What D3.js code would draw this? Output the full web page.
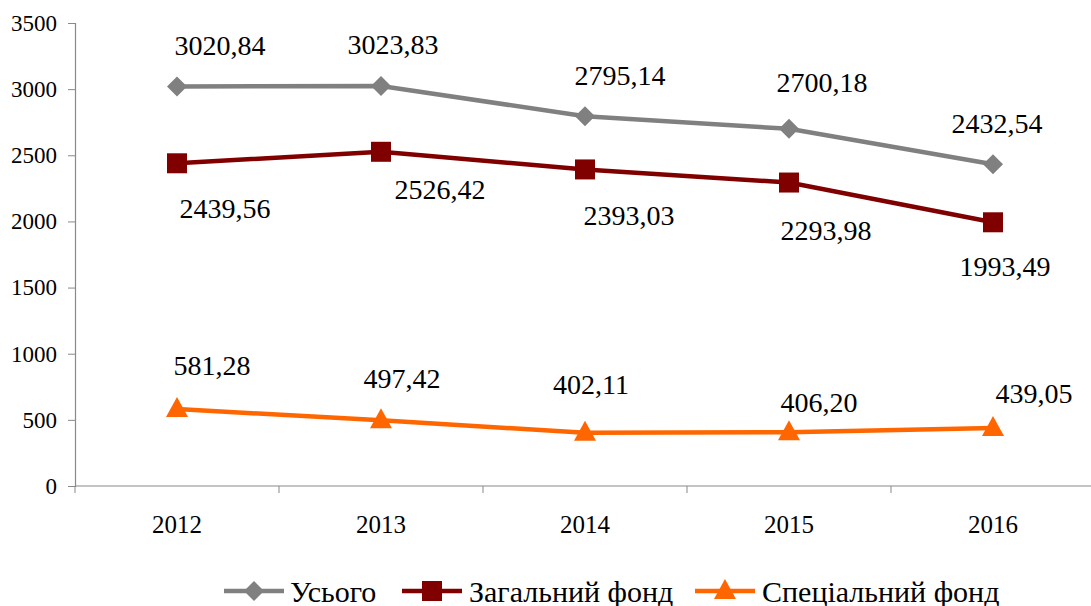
<!DOCTYPE html>
<html>
<head>
<meta charset="utf-8">
<script src="https://cdn.jsdelivr.net/npm/d3@7"></script>
<style>
  body { margin: 0; background: #fff; }
</style>
</head>
<body>
<div id="chart"></div>
<script>
const years = ["2012", "2013", "2014", "2015", "2016"];
const totalValues = [3020.84, 3023.83, 2795.14, 2700.18, 2432.54];
const generalValues = [2439.56, 2526.42, 2393.03, 2293.98, 1993.49];
const specialValues = [581.28, 497.42, 402.11, 406.20, 439.05];
const yTicks = [0, 500, 1000, 1500, 2000, 2500, 3000, 3500];

// label nudges (px, relative to the point), as placed in the original
const totalNudge = [[43, -41], [12, -42], [35, -41], [33, -47], [4, -41]];
const generalNudge = [[48, 45], [59, 37], [44, 46], [37, 48], [12, 44]];
const specialNudge = [[35, -44], [21, -42], [6, -49], [30, -30], [41, -35]];

const series = [
  {name: "Усього", values: totalValues, nudge: totalNudge, color: "#808080", shape: "diamond"},
  {name: "Загальний фонд", values: generalValues, nudge: generalNudge, color: "#800000", shape: "square"},
  {name: "Спеціальний фонд", values: specialValues, nudge: specialNudge, color: "#FF6600", shape: "triangle"}
];

const FONT = "'Liberation Serif', 'Times New Roman', 'DejaVu Serif', serif";
const width = 1091, height = 606;
const svg = d3.select("#chart").append("svg")
  .attr("width", width).attr("height", height)
  .attr("font-family", FONT);

const x = d3.scaleBand().domain(years).range([75, 1095]);
const y = d3.scaleLinear().domain([0, 3500]).range([486, 23]);

const fmt = v => v.toFixed(2).replace(".", ",");

// y axis
const yAxis = svg.append("g").attr("transform", "translate(75,0)")
  .call(d3.axisLeft(y).tickValues(yTicks).tickSize(7).tickPadding(11).tickFormat(d => d));
yAxis.attr("font-family", FONT).attr("font-size", 23);
yAxis.select(".domain").attr("stroke", "#898989").attr("stroke-width", 1.2);
yAxis.selectAll(".tick line").attr("stroke", "#898989");
yAxis.selectAll(".tick text").attr("fill", "#000");

// x axis with ticks at category boundaries
const xAxisG = svg.append("g").attr("transform", "translate(0,486)");
xAxisG.append("line").attr("x1", 75).attr("x2", 1095).attr("stroke", "#898989").attr("stroke-width", 1.2);
const bounds = years.map(d => x(d)).concat([x.range()[1]]);
xAxisG.selectAll(".xt").data(bounds).enter().append("line")
  .attr("x1", d => d).attr("x2", d => d).attr("y1", 0).attr("y2", 7).attr("stroke", "#898989");
xAxisG.selectAll(".xl").data(years).enter().append("text")
  .attr("x", d => x(d) + x.bandwidth() / 2).attr("y", 38)
  .attr("text-anchor", "middle").attr("dy", "0.35em")
  .attr("font-size", 25).text(d => d);

const cx = d => x(d) + x.bandwidth() / 2;

function marker(g, shape, color, px, py) {
  if (shape === "diamond") {
    g.append("path").attr("d", `M${px},${py - 10}L${px + 10},${py}L${px},${py + 10}L${px - 10},${py}Z`)
      .attr("fill", color);
  } else if (shape === "square") {
    g.append("rect").attr("x", px - 10).attr("y", py - 10).attr("width", 20).attr("height", 20).attr("fill", color);
  } else {
    g.append("path").attr("d", `M${px},${py - 12}L${px + 11},${py + 8}L${px - 11},${py + 8}Z`).attr("fill", color);
  }
}

const line = d3.line().x((v, i) => cx(years[i])).y(v => y(v));

series.forEach(s => {
  const g = svg.append("g");
  g.append("path").datum(s.values).attr("d", line)
    .attr("fill", "none").attr("stroke", s.color).attr("stroke-width", 4.5);
  s.values.forEach((v, i) => marker(g, s.shape, s.color, cx(years[i]), y(v)));
  g.selectAll(".lbl").data(s.values).enter().append("text")
    .attr("x", (v, i) => cx(years[i]) + s.nudge[i][0])
    .attr("y", (v, i) => y(v) + s.nudge[i][1])
    .attr("dy", "0.35em").attr("text-anchor", "middle")
    .attr("font-size", 28).text(v => fmt(v));
});

// legend
const legendItems = [
  {x: 224, tx: 290},
  {x: 402, tx: 469},
  {x: 695, tx: 762}
];
const legend = svg.append("g").attr("transform", "translate(0,591)");
series.forEach((s, i) => {
  const it = legendItems[i];
  legend.append("line").attr("x1", it.x).attr("x2", it.x + 60).attr("y1", 0).attr("y2", 0)
    .attr("stroke", s.color).attr("stroke-width", 4.5);
  marker(legend, s.shape, s.color, it.x + 30, 0);
  legend.append("text").attr("x", it.tx).attr("y", 0).attr("dy", "0.35em")
    .attr("font-size", 30).text(s.name);
});
</script>
</body>
</html>
